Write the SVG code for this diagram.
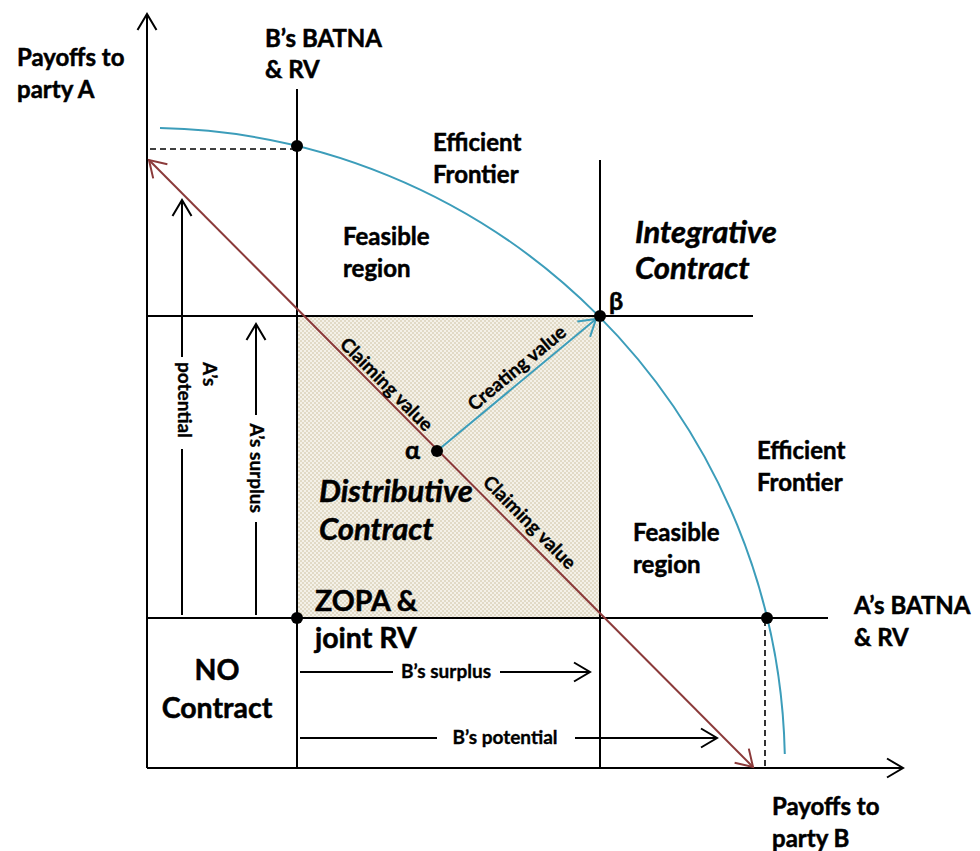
<svg xmlns="http://www.w3.org/2000/svg" width="980" height="851" viewBox="0 0 980 851">
<style>
text{font-family:Lato,"Liberation Sans",sans-serif;font-weight:bold;fill:#000;stroke:#000;stroke-width:0.5}
.lbl{font-size:24px}
.big{font-size:28.5px}
.bigi{font-size:31px;font-style:italic}
.sm{font-size:19px;stroke-width:0.35}
.gr{font-size:25px}
.ln{stroke:#000;stroke-width:2;fill:none}
.dash{stroke:#000;stroke-width:1.6;fill:none;stroke-dasharray:6,4}
.red{stroke:#8B3A3A;stroke-width:2;fill:none}
.blue{stroke:#3C9DBA;stroke-width:2;fill:none}
.dot{fill:#000}
</style>
<defs>
<pattern id="stip" width="4" height="4" patternUnits="userSpaceOnUse">
<rect width="4" height="4" fill="#f4f1e8"/>
<circle cx="1" cy="1" r="0.8" fill="#c9bd9b"/>
<circle cx="3" cy="3" r="0.8" fill="#c9bd9b"/>
</pattern>
<marker id="ak" markerUnits="userSpaceOnUse" markerWidth="40" markerHeight="40" viewBox="-20 -20 40 40" refX="0" refY="0" orient="auto" overflow="visible">
<path d="M-16,-9.5 L0,0 L-16,9.5" fill="none" stroke="#000" stroke-width="2"/>
</marker>
<marker id="ar" markerUnits="userSpaceOnUse" markerWidth="40" markerHeight="40" viewBox="-20 -20 40 40" refX="0" refY="0" orient="auto-start-reverse" overflow="visible">
<path d="M-16,-10 L0,0 L-16,10" fill="none" stroke="#8B3A3A" stroke-width="2"/>
</marker>
<marker id="ab" markerUnits="userSpaceOnUse" markerWidth="40" markerHeight="40" viewBox="-20 -20 40 40" refX="0" refY="0" orient="auto" overflow="visible">
<path d="M-16,-10 L0,0 L-16,10" fill="none" stroke="#3C9DBA" stroke-width="2"/>
</marker>
</defs>

<rect id="zopa-region" x="297" y="316" width="303" height="302" fill="url(#stip)"/>

<g id="connectors">
<line class="ln" x1="147" y1="768" x2="147" y2="14" marker-end="url(#ak)"/>
<line class="ln" x1="147" y1="768" x2="903" y2="768" marker-end="url(#ak)"/>
<line class="ln" x1="297" y1="89" x2="297" y2="768"/>
<line class="ln" x1="600" y1="160" x2="600" y2="768"/>
<line class="ln" x1="147" y1="316" x2="753" y2="316"/>
<line class="ln" x1="147" y1="618" x2="828" y2="618"/>
<line class="dash" x1="150" y1="149" x2="295" y2="149"/>
<line class="dash" x1="765" y1="620" x2="765" y2="768"/>
<path class="blue" d="M160,128.1 A638,640 0 0,1 784.8,754"/>
<line class="red" x1="149" y1="160" x2="753" y2="767" marker-start="url(#ar)" marker-end="url(#ar)"/>
<line class="blue" x1="437" y1="451" x2="596" y2="319" marker-end="url(#ab)"/>
<line class="ln" x1="182" y1="615" x2="182" y2="449"/>
<line class="ln" x1="182" y1="357" x2="182" y2="200" marker-end="url(#ak)"/>
<line class="ln" x1="256" y1="615" x2="256" y2="522"/>
<line class="ln" x1="256" y1="415" x2="256" y2="324" marker-end="url(#ak)"/>
<line class="ln" x1="300" y1="672" x2="393" y2="672"/>
<line class="ln" x1="500" y1="672" x2="590" y2="672" marker-end="url(#ak)"/>
<line class="ln" x1="300" y1="738" x2="437" y2="738"/>
<line class="ln" x1="575" y1="738" x2="717" y2="738" marker-end="url(#ak)"/>
</g>

<g id="points">
<circle id="pt-b-batna" class="dot" cx="297" cy="146" r="6"/>
<circle id="pt-beta" class="dot" cx="600" cy="316" r="6"/>
<circle id="pt-a-batna" class="dot" cx="767" cy="618" r="6"/>
<circle id="pt-zopa" class="dot" cx="297" cy="618" r="6"/>
<circle id="pt-alpha" class="dot" cx="437" cy="451" r="6"/>
</g>

<g id="axis-a-label"><text class="lbl" x="17" y="66">Payoffs to</text><text class="lbl" x="17" y="98">party A</text></g>
<g id="axis-b-label"><text class="lbl" x="772" y="815">Payoffs to</text><text class="lbl" x="772" y="847">party B</text></g>
<g id="b-batna"><text class="lbl" x="265" y="47">B’s BATNA</text><text class="lbl" x="265" y="78">&amp; RV</text></g>
<g id="a-batna"><text class="lbl" x="854" y="614">A’s BATNA</text><text class="lbl" x="854" y="646">&amp; RV</text></g>
<g id="frontier-1"><text class="lbl" x="433" y="151">Efficient</text><text class="lbl" x="433" y="183">Frontier</text></g>
<g id="frontier-2"><text class="lbl" x="757" y="459">Efficient</text><text class="lbl" x="757" y="491">Frontier</text></g>
<g id="feasible-1"><text class="lbl" x="343" y="245">Feasible</text><text class="lbl" x="343" y="277">region</text></g>
<g id="feasible-2"><text class="lbl" x="633" y="541">Feasible</text><text class="lbl" x="633" y="573">region</text></g>
<g id="integrative"><text class="bigi" x="635" y="243">Integrative</text><text class="bigi" x="635" y="279">Contract</text></g>
<g id="distributive"><text class="bigi" x="319" y="502">Distributive</text><text class="bigi" x="319" y="540">Contract</text></g>
<g id="zopa"><text class="big" x="315" y="611">ZOPA &amp;</text><text class="big" x="315" y="648">joint RV</text></g>
<g id="no-contract"><text class="big" x="217" y="680" text-anchor="middle">NO</text><text class="big" x="217" y="718" text-anchor="middle">Contract</text></g>
<g id="beta"><text class="gr" x="609" y="310">β</text></g>
<g id="alpha"><text class="gr" x="405" y="459">α</text></g>
<g id="claim-1"><text class="sm" text-anchor="middle" transform="translate(382,389) rotate(45.2)">Claiming value</text></g>
<g id="claim-2"><text class="sm" text-anchor="middle" transform="translate(525,527) rotate(45.2)">Claiming value</text></g>
<g id="create"><text class="sm" text-anchor="middle" transform="translate(521,373) rotate(-39.7)">Creating value</text></g>
<g id="a-potential"><text class="sm" transform="translate(203,362) rotate(90)"><tspan x="0" y="0">A’s</tspan><tspan x="0" y="25">potential</tspan></text></g>
<g id="a-surplus"><text class="sm" text-anchor="middle" transform="translate(250,468) rotate(90)">A’s surplus</text></g>
<g id="b-surplus"><text class="sm" x="446" y="678" text-anchor="middle">B’s surplus</text></g>
<g id="b-potential"><text class="sm" x="505" y="744" text-anchor="middle">B’s potential</text></g>
</svg>
